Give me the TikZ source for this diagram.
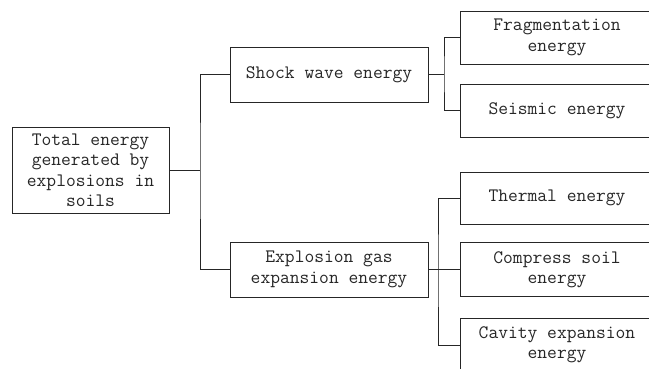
\documentclass[tikz,border=0pt]{standalone}
\usepackage{fontspec}
\begin{document}
\begin{tikzpicture}[x=1pt,y=-1pt,
  box/.style={draw=black!85,line width=1pt,rectangle,inner sep=0pt,align=center,
    font=\ttfamily\fontsize{19}{20.5}\selectfont,text=black!85},
  link/.style={draw=black!85,line width=1pt}]
\useasboundingbox (0,0) rectangle (649,368);
\fill[white] (0,0) rectangle (649,368);
\clip (0,0) rectangle (649,368);
\node[box,minimum width=157pt,minimum height=86pt] (total) at (90.5,170) {Total energy\\generated by\\explosions in\\soils};
\node[box,minimum width=198pt,minimum height=55pt] (shock) at (329,74.5) {Shock wave energy};
\node[box,minimum width=198pt,minimum height=55pt] (gas) at (329,269.5) {Explosion gas\\expansion energy};
\node[box,minimum width=194pt,minimum height=53pt] (frag) at (557,37.5) {Fragmentation\\energy};
\node[box,minimum width=194pt,minimum height=53pt] (seismic) at (557,110.5) {Seismic energy};
\node[box,minimum width=194pt,minimum height=52pt] (thermal) at (557,198) {Thermal energy};
\node[box,minimum width=194pt,minimum height=54pt] (compress) at (557,269.5) {Compress soil\\energy};
\node[box,minimum width=194pt,minimum height=54pt] (cavity) at (557,345) {Cavity expansion\\energy};
\coordinate (j1) at (200,170);
\coordinate (j2) at (444,74.5);
\coordinate (j3) at (438,269.5);
\draw[link] (total.east) -- (j1);
\draw[link] (shock.west) -| (j1) |- (gas.west);
\draw[link] (shock.east) -- (j2);
\draw[link] (frag.west) -| (j2) |- (seismic.west);
\draw[link] (gas.east) -- (compress.west);
\draw[link] (thermal.west) -| (j3) |- (cavity.west);
\end{tikzpicture}
\end{document}
